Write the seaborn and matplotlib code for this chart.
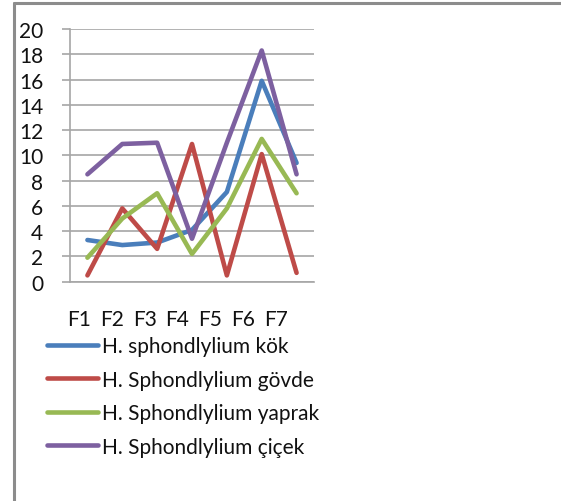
import numpy as np
import pandas as pd
import matplotlib
matplotlib.use("Agg")
import matplotlib.pyplot as plt
from matplotlib.lines import Line2D
import seaborn as sns

# Fractions F1..F7 and the measured values for each plant part
fractions = ["F1", "F2", "F3", "F4", "F5", "F6", "F7"]
kok = [3.3, 2.9, 3.1, 4.1, 7.1, 15.9, 9.4]
govde = [0.5, 5.8, 2.6, 10.9, 0.5, 10.1, 0.7]
yaprak = [1.9, 5.0, 7.0, 2.2, 5.8, 11.3, 7.0]
cicek = [8.5, 10.9, 11.0, 3.4, 11.0, 18.3, 8.5]

series_names = [
    "H. sphondlylium kök",
    "H. Sphondlylium gövde",
    "H. Sphondlylium yaprak",
    "H. Sphondlylium çiçek",
]
series_values = [kok, govde, yaprak, cicek]
colors = ["#4A7EBB", "#BE4B48", "#98B954", "#7D60A0"]

y_ticks = list(range(0, 21, 2))

df = pd.DataFrame(
    [(f, name, v) for name, vals in zip(series_names, series_values)
     for f, v in zip(fractions, vals)],
    columns=["fraction", "series", "value"],
)

sns.set_style("white")
plt.rcParams["font.family"] = ["Lato", "DejaVu Sans"]

W, H, DPI = 561, 502, 100
FS = 15
fig = plt.figure(figsize=(W / DPI, H / DPI), dpi=DPI)
ax = fig.add_axes([70 / W, 1 - 282.7 / H, 244 / W, 252.7 / H])

sns.lineplot(
    data=df, x="fraction", y="value", hue="series",
    palette=dict(zip(series_names, colors)), linewidth=3.3,
    sort=False, legend=False, ax=ax,
)

grid_c = "#A6A6A6"
ax.set_xlim(-0.5, len(fractions) - 0.5)
ax.set_ylim(0, 20)
ax.set_yticks(y_ticks)
ax.set_yticklabels([str(t) for t in y_ticks])
ax.yaxis.grid(True, color=grid_c, linewidth=1.2)
ax.set_axisbelow(True)
ax.set_xlabel("")
ax.set_ylabel("")

# category boundaries carry the tick marks; labels sit slightly compressed
ax.set_xticks(np.arange(len(fractions) + 1) - 0.5, minor=True)
ax.set_xticks(np.arange(len(fractions)) * 0.94 - 0.24)
ax.set_xticklabels(fractions)
ax.tick_params(axis="x", which="minor", length=5.8, width=1.2, color=grid_c, direction="out")
ax.tick_params(axis="x", which="major", length=0, pad=19.5, labelsize=FS, labelcolor="#111111")
ax.tick_params(axis="y", length=5.8, width=1.2, color=grid_c, direction="out",
               pad=13.5, labelsize=FS, labelcolor="#111111", left=True)

for side in ["top", "right"]:
    ax.spines[side].set_visible(False)
for side in ["left", "bottom"]:
    ax.spines[side].set_color(grid_c)
    ax.spines[side].set_linewidth(1.2)

handles = [Line2D([0], [0], color=c, linewidth=3.3) for c in colors]
fig.legend(
    handles, series_names, loc="upper left",
    bbox_to_anchor=(47 / W, 1 - 337 / H), frameon=False,
    fontsize=FS, handlelength=2.45, handletextpad=0.2,
    borderpad=0, borderaxespad=0, labelspacing=0.65,
    labelcolor="#111111",
)

# outer chart frame (top and left edges)
fig.add_artist(Line2D([13.5 / W, 13.5 / W], [0, 1 - 4 / H], transform=fig.transFigure,
                      color="#8C8C8C", linewidth=2.2))
fig.add_artist(Line2D([13.5 / W, 1], [1 - 4 / H, 1 - 4 / H], transform=fig.transFigure,
                      color="#8C8C8C", linewidth=2.2))

fig.savefig("out.png", dpi=DPI)
